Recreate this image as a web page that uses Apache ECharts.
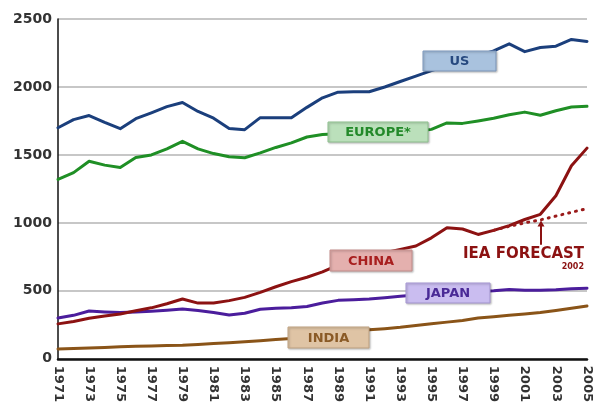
<!DOCTYPE html>
<html>
<head>
<meta charset="utf-8">
<script src="https://cdn.jsdelivr.net/npm/echarts@6/dist/echarts.min.js"></script>
<style>
  html, body { margin: 0; padding: 0; background: #ffffff; }
  #chart { width: 594px; height: 405px; }
</style>
</head>
<body>
<div id="chart"></div>
<script>
// Years on the horizontal axis
const years = [];
for (let y = 1971; y <= 2005; y++) years.push(String(y));

// Series values, one per year 1971-2005
const usValues = [1700, 1760, 1790, 1740, 1693, 1767, 1810, 1855, 1886, 1820,
                  1770, 1695, 1686, 1774, 1774, 1774, 1850, 1920, 1962, 1965,
                  1965, 2000, 2040, 2080, 2120, 2155, 2190, 2230, 2265, 2317,
                  2260, 2290, 2300, 2350, 2335];
const europeValues = [1320, 1370, 1454, 1425, 1408, 1481, 1500, 1545, 1600, 1545,
                      1510, 1486, 1479, 1515, 1555, 1589, 1632, 1650, 1655, 1662,
                      1668, 1665, 1662, 1672, 1688, 1735, 1732, 1750, 1770, 1795,
                      1815, 1792, 1825, 1852, 1858];
const chinaValues = [257, 275, 298, 315, 330, 354, 375, 405, 440, 410,
                     410, 428, 452, 489, 530, 568, 600, 640, 690, 720,
                     750, 780, 805, 830, 890, 965, 955, 915, 945, 980,
                     1025, 1063, 1200, 1420, 1550];
const forecastValues = [null, null, null, null, null, null, null, null, null, null,
                        null, null, null, null, null, null, null, null, null, null,
                        null, null, null, null, null, null, null, null, 945, 975,
                        1000, 1022, 1050, 1078, 1105];
const japanValues = [300, 320, 352, 345, 340, 345, 350, 358, 366, 355,
                     340, 322, 335, 365, 372, 375, 385, 410, 430, 435,
                     440, 450, 460, 470, 480, 488, 495, 495, 500, 510,
                     505, 505, 508, 515, 520];
const indiaValues = [72, 75, 80, 84, 88, 92, 95, 98, 100, 105,
                     112, 118, 125, 133, 142, 150, 163, 175, 188, 200,
                     213, 222, 232, 245, 258, 270, 282, 300, 310, 320,
                     330, 340, 355, 372, 388];

// Y-axis tick values
const yTicks = [0, 500, 1000, 1500, 2000, 2500];

const chart = echarts.init(document.getElementById('chart'), null, { renderer: 'canvas' });

const font = '"DejaVu Sans", "Liberation Sans", Arial, sans-serif';

function lineSeries(name, data, color, extra) {
  return Object.assign({
    name: name,
    type: 'line',
    data: data,
    symbol: 'none',
    silent: true,
    animation: false,
    lineStyle: { color: color, width: 3, cap: 'round', join: 'round' },
    z: 3
  }, extra || {});
}

// Name tags drawn over the lines
function tag(x, y, w, h, text, fill, stroke, color) {
  return [
    {
      type: 'rect',
      zlevel: 1,
      z: 20,
      shape: { x: x, y: y, width: w, height: h },
      style: {
        fill: fill, stroke: stroke, lineWidth: 1,
        shadowBlur: 2, shadowOffsetX: 1, shadowOffsetY: 1,
        shadowColor: 'rgba(0,0,0,0.25)'
      }
    },
    {
      type: 'text',
      zlevel: 1,
      z: 21,
      x: x + w / 2,
      y: y + h / 2 + 1,
      style: {
        text: text, fill: color, align: 'center', verticalAlign: 'middle',
        font: 'bold 13px ' + font
      }
    }
  ];
}

chart.setOption({
  backgroundColor: '#ffffff',
  animation: false,
  grid: { left: 58, right: 7, top: 19, bottom: 45, containLabel: false },
  xAxis: {
    type: 'category',
    data: years,
    boundaryGap: false,
    axisLine: { lineStyle: { color: '#111111', width: 2.5 } },
    axisTick: { show: false },
    axisLabel: {
      interval: 1,
      rotate: -90,
      margin: 7,
      color: '#333333',
      fontFamily: font,
      fontWeight: 'bold',
      fontSize: 13
    },
    splitLine: { show: false }
  },
  yAxis: {
    type: 'value',
    min: 0,
    max: 2500,
    interval: 500,
    axisLine: { show: true, lineStyle: { color: '#111111', width: 1.5 } },
    axisTick: { show: false },
    axisLabel: {
      margin: 6,
      color: '#333333',
      fontFamily: font,
      fontWeight: 'bold',
      fontSize: 14,
      formatter: function (v) { return yTicks.indexOf(v) >= 0 ? String(v) : ''; }
    },
    splitLine: { lineStyle: { color: '#b4b4b4', width: 1.5 } }
  },
  series: [
    lineSeries('INDIA', indiaValues, '#8a5418'),
    lineSeries('JAPAN', japanValues, '#4b1d9c'),
    lineSeries('EUROPE*', europeValues, '#1f8f25'),
    lineSeries('US', usValues, '#1b3f7c'),
    lineSeries('CHINA', chinaValues, '#8c1212'),
    lineSeries('IEA FORECAST 2002', forecastValues, '#9a1a1a', {
      lineStyle: { color: '#9a1a1a', width: 3, type: [1, 6], cap: 'round' },
      connectNulls: false,
      z: 4
    })
  ]
});

// Annotation tags and the forecast arrow, placed from data coordinates
const gridSpace = (idx, v) => chart.convertToPixel({ gridIndex: 0 }, [idx, v]);
const arrowBase = gridSpace(31, 840);
const arrowTip = gridSpace(31, 1018);
const ax = Math.round(arrowBase[0]) + 1;

const graphics = [].concat(
  tag(423, 51, 73, 20, 'US', '#a9c2de', '#7d97bb', '#27497f'),
  tag(328, 122, 100, 20, 'EUROPE*', '#bbe0bb', '#8fc08f', '#23892a'),
  tag(330, 250, 82, 21, 'CHINA', '#e4b0ae', '#c48e8c', '#a81e1e'),
  tag(406, 283, 84, 20, 'JAPAN', '#cabdf0', '#a596d2', '#4a2a96'),
  tag(288, 327, 81, 21, 'INDIA', '#dfc4a5', '#c0a382', '#8a5a26'),
  [
    {
      type: 'line',
      zlevel: 1,
      z: 21,
      shape: { x1: ax, y1: arrowBase[1], x2: ax, y2: arrowTip[1] + 5 },
      style: { stroke: '#8c1212', lineWidth: 2 }
    },
    {
      type: 'polygon',
      zlevel: 1,
      z: 21,
      shape: { points: [[ax - 3.5, arrowTip[1] + 6], [ax + 3.5, arrowTip[1] + 6], [ax, arrowTip[1]]] },
      style: { fill: '#8c1212' }
    },
    {
      type: 'text',
      zlevel: 1,
      z: 21,
      x: 463,
      y: 254,
      style: {
        text: 'IEA FORECAST', fill: '#8c1212', align: 'left', verticalAlign: 'middle',
        font: 'bold 15px ' + font
      }
    },
    {
      type: 'text',
      zlevel: 1,
      z: 21,
      x: 584,
      y: 267,
      style: {
        text: '2002', fill: '#8c1212', align: 'right', verticalAlign: 'middle',
        font: 'bold 8px ' + font
      }
    }
  ]
);

chart.setOption({ graphic: graphics });
</script>
</body>
</html>
